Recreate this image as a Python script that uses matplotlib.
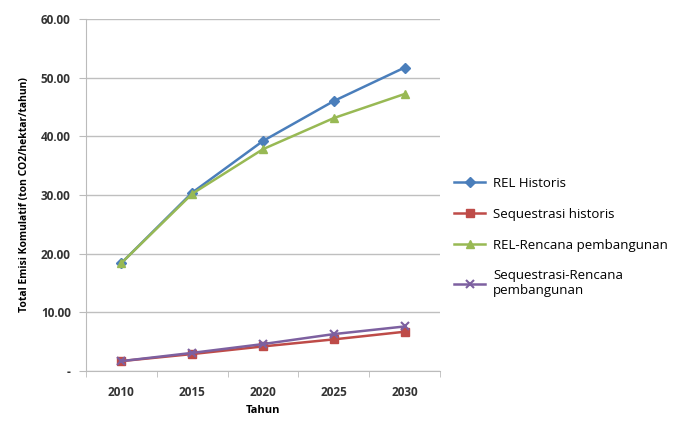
import numpy as np
import matplotlib.pyplot as plt
from matplotlib.ticker import FixedLocator

years = ["2010", "2015", "2020", "2025", "2030"]
rel_historis = [18.4, 30.4, 39.2, 46.0, 51.7]
seq_historis = [1.7, 2.9, 4.2, 5.4, 6.7]
rel_rencana = [18.4, 30.2, 37.8, 43.1, 47.2]
seq_rencana = [1.7, 3.1, 4.6, 6.3, 7.6]
y_ticks = [0, 10, 20, 30, 40, 50, 60]
y_tick_labels = ["-", "10.00", "20.00", "30.00", "40.00", "50.00", "60.00"]

plt.rcParams["font.family"] = ["Open Sans", "DejaVu Sans"]

fig = plt.figure(figsize=(6.77, 4.28), dpi=100)
ax = fig.add_axes([0.127, 0.133, 0.523, 0.823])

x = np.arange(len(years))
ax.plot(x, rel_historis, color="#4a7ebb", marker="D", markersize=5, lw=1.8, label="REL Historis")
ax.plot(x, seq_historis, color="#be4b48", marker="s", markersize=6, lw=1.8, label="Sequestrasi historis")
ax.plot(x, rel_rencana, color="#98b954", marker="^", markersize=6, lw=1.8, label="REL-Rencana pembangunan")
ax.plot(x, seq_rencana, color="#7d60a0", marker="x", markersize=6, mew=1.5, lw=1.8,
        label="Sequestrasi-Rencana\npembangunan")

ax.set_xlim(-0.5, len(years) - 0.5)
ax.set_ylim(0, 60)
ax.set_xticks(x)
ax.set_xticklabels(years, fontsize=8.5, fontweight="bold", color="#333333")
ax.xaxis.set_minor_locator(FixedLocator(np.arange(-0.5, len(years), 1.0)))
ax.tick_params(axis="x", which="major", length=0, pad=11)
ax.tick_params(axis="x", which="minor", length=4, color="#bbbbbb", direction="out")
ax.set_yticks(y_ticks)
ax.set_yticklabels(y_tick_labels, fontsize=8.5, fontweight="bold", color="#333333")
ax.tick_params(axis="y", length=5, color="#bbbbbb", pad=6)

ax.yaxis.grid(True, color="#bfbfbf", lw=1)
ax.set_axisbelow(True)
for side in ["top", "right"]:
    ax.spines[side].set_visible(False)
for side in ["left", "bottom"]:
    ax.spines[side].set_color("#bbbbbb")

ax.set_xlabel("Tahun", fontsize=8, fontweight="bold", labelpad=4)
ax.set_ylabel("Total Emisi Komulatif (ton CO2/hektar/tahun)", fontsize=7.5, fontweight="bold", labelpad=8)

ax.legend(loc="center left", bbox_to_anchor=(1.005, 0.38), frameon=False, fontsize=9.5,
          handlelength=2.4, labelspacing=1.35, handletextpad=0.6)

fig.savefig("out.png", dpi=100)
